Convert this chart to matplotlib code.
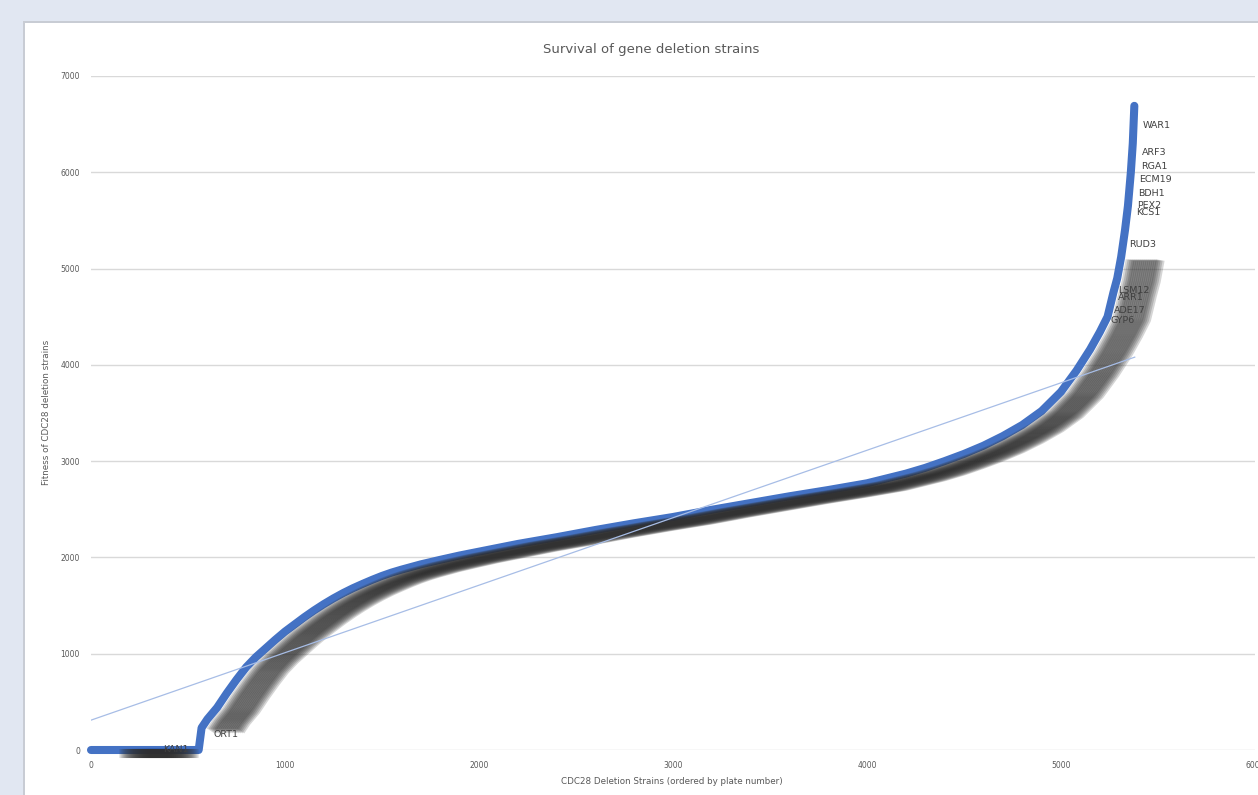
import matplotlib.pyplot as plt
from matplotlib.patches import Rectangle
from matplotlib.transforms import offset_copy

# ------------------------ #
# DATA
# ------------------------ #

strain_idx = [0, 100, 200, 300, 400, 500, 555, 570, 600, 625, 650, 700, 750, 800, 850,
              900, 950, 1000, 1050, 1100, 1150, 1200, 1250, 1300, 1350, 1400, 1450, 1500,
              1550, 1600, 1700, 1800, 1900, 2000, 2200, 2400, 2600, 2800, 3000, 3200,
              3400, 3600, 3800, 4000, 4200, 4300, 4400, 4500, 4600, 4700, 4800, 4900, 5000,
              5080, 5150, 5200, 5240, 5270, 5290, 5310, 5330, 5345, 5360, 5370, 5378]
fitness = [0, 0, 0, 0, 0, 0, 0, 230, 320, 380, 440, 590, 730, 860, 965,
           1055, 1145, 1230, 1305, 1380, 1450, 1515, 1575, 1630, 1680, 1725, 1768, 1808,
           1843, 1873, 1928, 1975, 2020, 2060, 2140, 2210, 2285, 2355, 2420, 2495,
           2565, 2635, 2700, 2770, 2870, 2930, 3000, 3075, 3160, 3260, 3375, 3520, 3720,
           3940, 4160, 4340, 4500, 4750, 4900, 5120, 5400, 5650, 6000, 6300, 6690]

# strain ranges whose data labels pile up into the grey smear
label_ranges = [(100, 350), (570, 5310)]

# linear trend line end points
trend_x = [0, 5380]
trend_y = [310, 4080]

# legible gene labels: (name, strain index, fitness)
gene_names = ["WAR1", "ARF3", "RGA1", "ECM19", "BDH1", "PEX2", "KCS1", "RUD3",
              "LSM12", "ARR1", "ADE17", "GYP6", "ORT1", "KAN1"]
gene_x = [5378, 5372, 5370, 5362, 5357, 5352, 5342, 5310,
          5253, 5248, 5228, 5212, 590, 330]
gene_y = [6490, 6210, 6064, 5930, 5784, 5660, 5587, 5254,
          4777, 4704, 4569, 4465, 160, 0]

yticks = [0, 1000, 2000, 3000, 4000, 5000, 6000, 7000]
xticks = [0, 1000, 2000, 3000, 4000, 5000, 6000]

# ------------------------ #
# PLOTTING
# ------------------------ #

W, H = 1258, 795
fig = plt.figure(figsize=(W / 100, H / 100), dpi=100, facecolor="#e1e7f2")

# white chart area with a soft border
fig.patches.append(Rectangle((23 / W, -0.1), 1.2, 1.1 - 21 / H, transform=fig.transFigure,
                             facecolor="#c8ccd4", edgecolor="none", zorder=-2))
fig.patches.append(Rectangle((25 / W, -0.1), 1.2, 1.1 - 23 / H, transform=fig.transFigure,
                             facecolor="white", edgecolor="none", zorder=-1))

ax = fig.add_axes([91 / W, 1 - 750 / H, (1255 - 91) / W, (750 - 76) / H])
ax.set_facecolor("none")
ax.set_xlim(0, 6000)
ax.set_ylim(0, 7000)
ax.set_xticks(xticks)
ax.set_yticks(yticks)
ax.tick_params(length=0, labelsize=5.5, labelcolor="#595959", pad=8)
for s in ax.spines.values():
    s.set_visible(False)
ax.grid(axis="y", color="#d9d9d9", linewidth=1.0, zorder=0)
ax.set_axisbelow(True)

# main series
ax.plot(strain_idx, fitness, color="#4472c4", linewidth=5.8,
        solid_capstyle="round", solid_joinstyle="round", clip_on=False, zorder=3)

# overlapping data labels (drawn as a smear to the right of the points)
for lo, hi in label_ranges:
    xs = [x for x in strain_idx if lo <= x <= hi]
    ys = [fitness[strain_idx.index(x)] for x in xs]
    if lo < 500:
        xs = [lo, hi]
        ys = [0, 0]
    for dx in range(9, 41, 2):
        tr = offset_copy(ax.transData, fig=fig, x=dx, y=-3, units="dots")
        ax.plot(xs, ys, color="#2e2e2e", alpha=0.2, linewidth=6.5,
                solid_capstyle="butt", solid_joinstyle="round",
                transform=tr, clip_on=False, zorder=4)

# trend line
ax.plot(trend_x, trend_y, color="#a7bde6", linewidth=0.9, zorder=5)

# readable labels
for name, gx, gy in zip(gene_names, gene_x, gene_y):
    ax.annotate(name, (gx, gy), xytext=(6, 0), textcoords="offset points",
                fontsize=6.8, color="#404040", va="center", ha="left",
                annotation_clip=False, zorder=6)

fig.text(651 / W, 1 - 50 / H, "Survival of gene deletion strains",
         fontsize=9.5, color="#595959", ha="center", va="center")
fig.text(672 / W, 1 - 782 / H, "CDC28 Deletion Strains (ordered by plate number)",
         fontsize=6.3, color="#595959", ha="center", va="center")
fig.text(47 / W, 1 - 412 / H, "Fitness of CDC28 deletion strains",
         fontsize=6.3, color="#595959", ha="center", va="center", rotation=90)

fig.savefig("out.png", dpi=100, facecolor=fig.get_facecolor())
